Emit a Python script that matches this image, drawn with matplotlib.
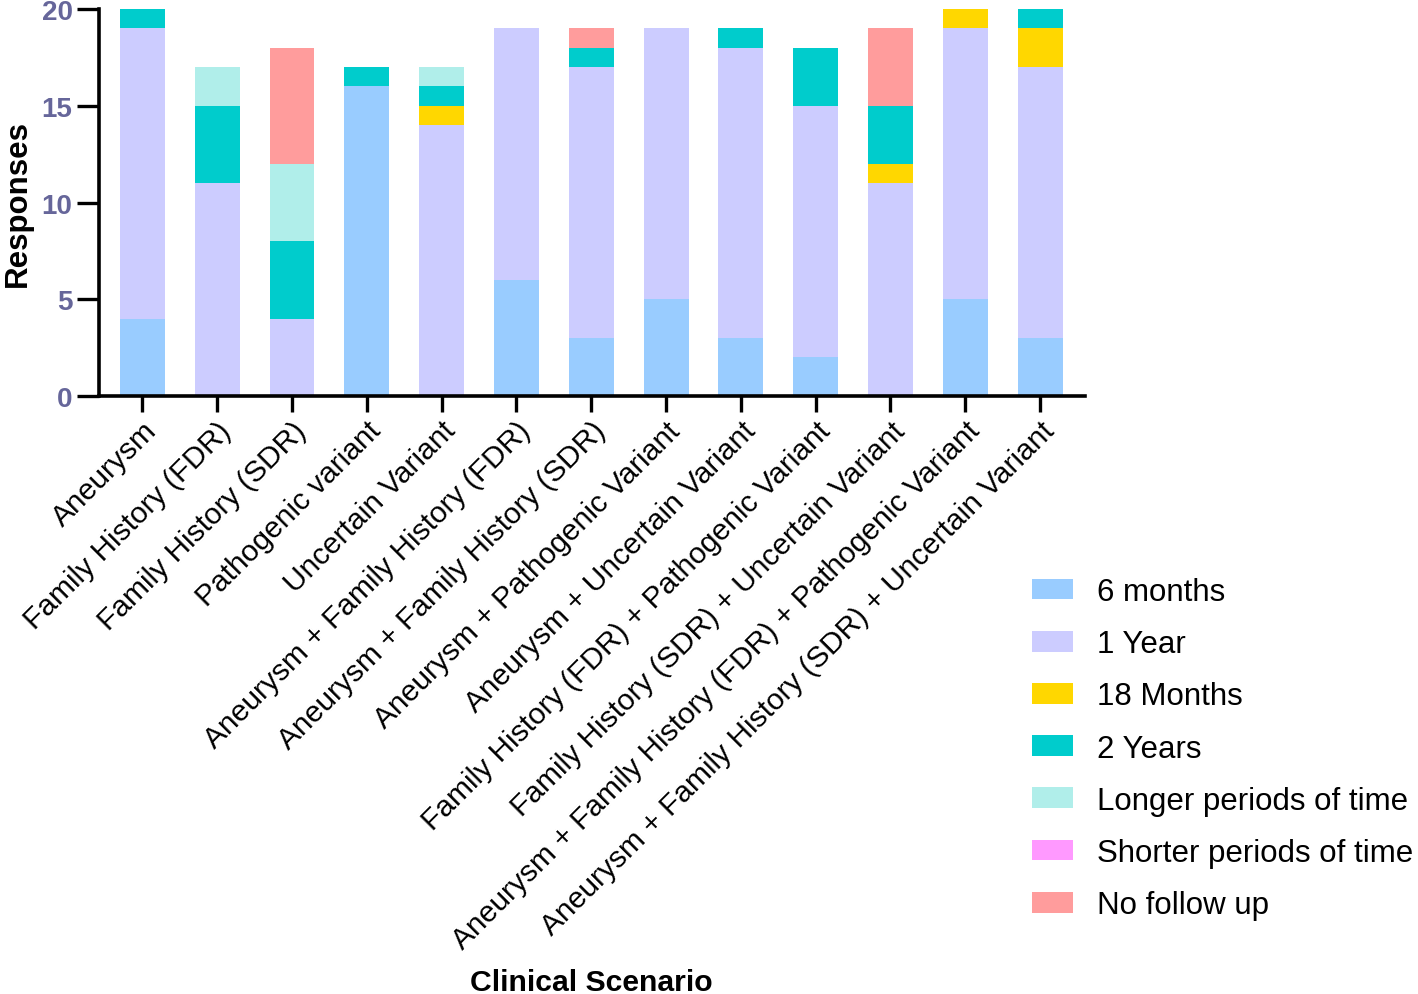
import matplotlib
matplotlib.use("Agg")
import matplotlib.pyplot as plt
import numpy as np

plt.rcParams['font.family'] = ['Liberation Sans', 'DejaVu Sans']

scenarios = [
    "Aneurysm",
    "Family History (FDR)",
    "Family History (SDR)",
    "Pathogenic variant",
    "Uncertain Variant",
    "Aneurysm + Family History (FDR)",
    "Aneurysm + Family History (SDR)",
    "Aneurysm + Pathogenic Variant",
    "Aneurysm + Uncertain Variant",
    "Family History (FDR) + Pathogenic Variant",
    "Family History (SDR) + Uncertain Variant",
    "Aneurysm + Family History (FDR) + Pathogenic Variant",
    "Aneurysm + Family History (SDR) + Uncertain Variant",
]

six_months   = [4, 0, 0, 16, 0, 6, 3, 5, 3, 2, 0, 5, 3]
one_year     = [15, 11, 4, 0, 14, 13, 14, 14, 15, 13, 11, 14, 14]
months_18    = [0, 0, 0, 0, 1, 0, 0, 0, 0, 0, 1, 1, 2]
two_years    = [1, 4, 4, 1, 1, 0, 1, 0, 1, 3, 3, 0, 1]
longer       = [0, 2, 4, 0, 1, 0, 0, 0, 0, 0, 0, 0, 0]
shorter      = [0, 0, 0, 0, 0, 0, 0, 0, 0, 0, 0, 0, 0]
no_follow_up = [0, 0, 6, 0, 0, 0, 1, 0, 0, 0, 4, 0, 0]

series = [
    ("6 months", six_months, "#99ccff"),
    ("1 Year", one_year, "#ccccff"),
    ("18 Months", months_18, "#ffd700"),
    ("2 Years", two_years, "#00cccc"),
    ("Longer periods of time", longer, "#b0eeea"),
    ("Shorter periods of time", shorter, "#ff99ff"),
    ("No follow up", no_follow_up, "#ff9c9c"),
]

fig = plt.figure(figsize=(14.18, 9.95), dpi=100)
ax = fig.add_axes([99/1418, 1-397/995, (1085-99)/1418, (397-10)/995])

x = np.arange(len(scenarios))
bottom = np.zeros(len(scenarios))
for label, vals, color in series:
    vals = np.array(vals, dtype=float)
    ax.bar(x, vals, width=0.6, bottom=bottom, color=color, label=label, linewidth=0)
    bottom += vals

ax.set_xlim(-0.58, 12.6)
ax.set_ylim(0, 20)
ax.set_yticks([0, 5, 10, 15, 20])
ax.set_xticks(x)
ax.set_xticklabels(scenarios, rotation=45, ha='right', rotation_mode='anchor', fontsize=21.5)

for lbl in ax.get_yticklabels():
    lbl.set_fontweight('bold')
    lbl.set_color('#66669a')
    lbl.set_fontsize(20)

for s in ['top', 'right']:
    ax.spines[s].set_visible(False)
for s in ['left', 'bottom']:
    ax.spines[s].set_linewidth(2.6)
ax.tick_params(axis='x', length=11.5, width=2.4, direction='out', pad=3)
ax.tick_params(axis='y', length=16, width=2.4, direction='out', pad=3)

ax.set_ylabel("Responses", fontsize=22.5, fontweight='bold', labelpad=6)
fig.text(591/1418, 1-983/995, "Clinical Scenario", fontsize=21.7, fontweight='bold',
         ha='center', va='center')

fig.legend(loc='upper left', bbox_to_anchor=(1032/1418, 1-578/995), frameon=False,
           fontsize=22.5, handlelength=1.32, handleheight=0.65, handletextpad=0.77,
           labelspacing=0.71, borderpad=0, borderaxespad=0)

fig.savefig("out.png", dpi=100)
